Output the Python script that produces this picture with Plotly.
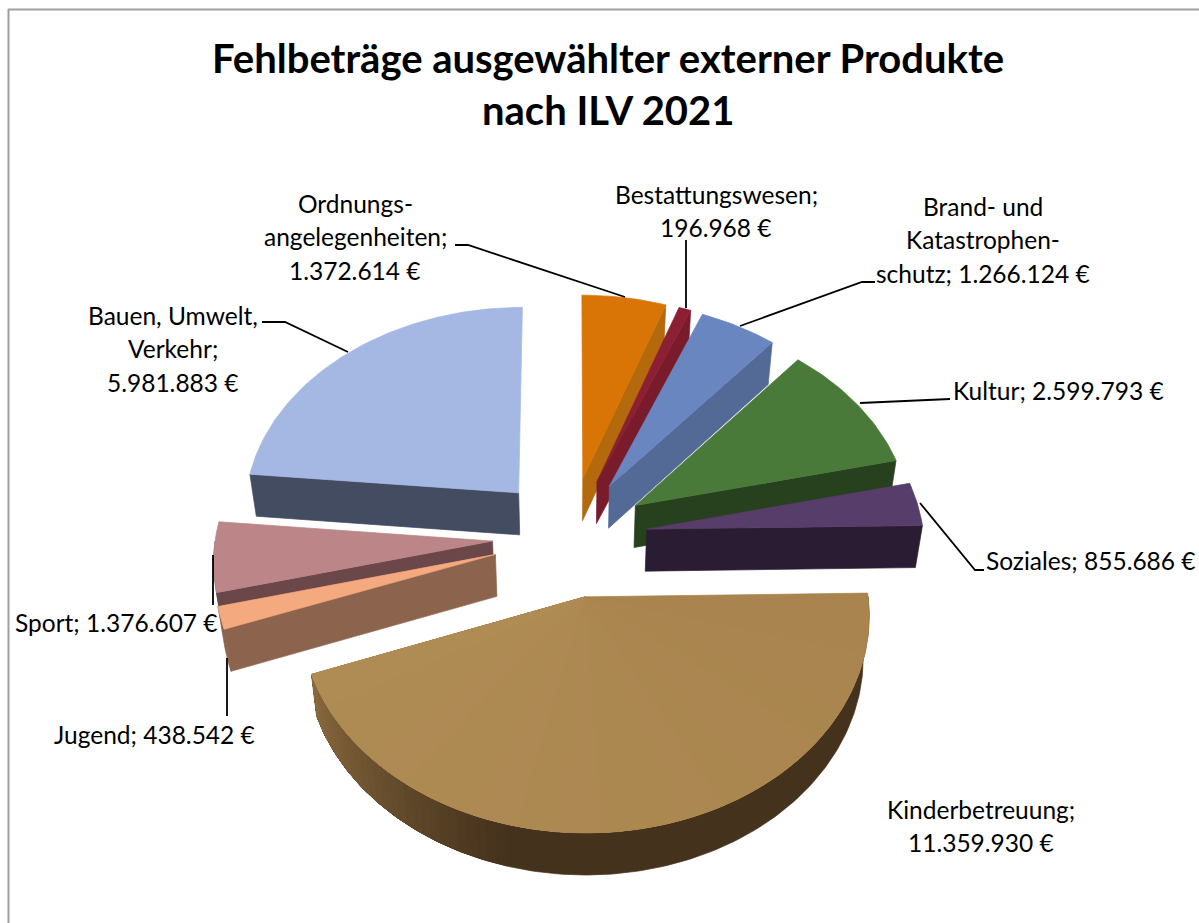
import math
import plotly.graph_objects as go

# ---- data ----
categories = ["Ordnungsangelegenheiten", "Bestattungswesen", "Brand- und Katastrophenschutz",
              "Kultur", "Soziales", "Kinderbetreuung", "Jugend", "Sport", "Bauen, Umwelt, Verkehr"]
values = [1372614, 196968, 1266124, 2599793, 855686, 11359930, 438542, 1376607, 5981883]
label_heads = [["Ordnungs-", "angelegenheiten;"], ["Bestattungswesen;"], ["Brand- und", "Katastrophen-", "schutz;"],
               ["Kultur;"], ["Soziales;"], ["Kinderbetreuung;"], ["Jugend;"], ["Sport;"],
               ["Bauen, Umwelt,", "Verkehr;"]]
top_colors = ["#D97506", "#8B1F33", "#6A86C1", "#4A7A39", "#573D69", "#A9844E", "#F5A97F", "#BC8688", "#A4B8E3"]
wall_colors = ["#B46A0C", "#7A1B2C", "#526A95", "#27401E", "#2A1C33", "#45321C", "#8C644E", "#6B4749", "#434C61"]
title_lines = ["Fehlbeträge ausgewählter externer Produkte", "nach ILV 2021"]

# ---- projection of the tilted pie onto the page ----
CX, CY = 570, 536.5
A, B, P = 277, 207, 0.08
EX, EY = 0.28, 0.29
DEPTH = 42
SHRINK = 0.98


def project(u, v, low=False):
    w = 1 / (1 + P * v)
    x = CX + A * u * w
    y = CY - B * v * w
    if low:
        x = CX + (x - CX) * SHRINK
        y += DEPTH
    return x, y


def mix(c1, c2, t):
    a = [int(c1[i:i + 2], 16) for i in (1, 3, 5)]
    b = [int(c2[i:i + 2], 16) for i in (1, 3, 5)]
    return "#%02X%02X%02X" % tuple(round(p + (q - p) * t) for p, q in zip(a, b))


fig = go.Figure()


def poly(pts, color, edge=0.7):
    fig.add_trace(go.Scatter(x=[p[0] for p in pts] + [pts[0][0]], y=[p[1] for p in pts] + [pts[0][1]],
                             mode="lines", fill="toself", fillcolor=color,
                             line=dict(color=color, width=edge), hoverinfo="skip", showlegend=False))


total = sum(values)
bounds = []
t = 0.0
for v in values:
    bounds.append((t, t + v / total * 360))
    t += v / total * 360

for i in [8, 0, 1, 2, 3, 4, 7, 6, 5]:
    a0, a1 = bounds[i]
    mid = math.radians((a0 + a1) / 2)
    ou, ov = EX * math.sin(mid), EY * math.cos(mid)

    def rim(deg, low=False):
        r = math.radians(deg)
        return project(ou + math.sin(r), ov + math.cos(r), low)

    def arc(d0, d1, low=False, step=1.0):
        n = max(2, int(abs(d1 - d0) / step))
        return [rim(d0 + (d1 - d0) * k / n, low) for k in range(n + 1)]

    apex = project(ou, ov)
    apex_low = project(ou, ov, True)
    # radial walls
    if a1 < 180:
        poly([apex, rim(a1), rim(a1, True), apex_low], wall_colors[i])
    if 180 < a0 < 360:
        poly([apex, rim(a0), rim(a0, True), apex_low], wall_colors[i])
    # curved front wall
    lo, hi = max(a0, 90), min(a1, 270)
    if hi > lo:
        poly(arc(lo, hi) + arc(hi, lo, True), wall_colors[i])
        if i == 5:
            # lighter towards the left end, pieces overlap going leftwards
            d = 195.0
            while d < hi:
                f = (d + 1 - 195) / (hi - 195)
                poly(arc(d, hi) + arc(hi, d, True), mix("#45321C", "#8A6A3E", f), edge=0)
                d += 2.0
    # top face
    poly([apex] + arc(a0, a1), top_colors[i])
    if i == 5:
        # faint left-to-right banding of the largest slice
        d = a0 + 8
        while d < a1:
            f = (d - a0) / (a1 - a0)
            poly([apex] + arc(d, a1), mix("#A9844E", "#B08C55", f), edge=0)
            d += 8

# ---- leader lines ----
leaders = [
    [(455, 245), (468, 245), (625, 297)],
    [(686, 240), (686, 308)],
    [(875, 282), (862, 282), (740, 326)],
    [(950, 399), (860, 403)],
    [(984, 570), (975, 570), (920, 503)],
    [(227, 658), (227, 716)],
    [(213, 555), (213, 605)],
    [(262, 322), (285, 322), (348, 352)],
]
for pts in leaders:
    fig.add_trace(go.Scatter(x=[p[0] for p in pts], y=[p[1] for p in pts], mode="lines",
                             line=dict(color="black", width=1.8), hoverinfo="skip", showlegend=False))

# ---- labels: one text per line so the line pitch can match ----
FONT = "Lato, Carlito, sans-serif"
SIZE = 24.5
PITCH = 33.5
anchors = [(355, 203, "center"), (716, 194, "center"), (983, 206, "center"), (1058, 390, "center"),
           (1198, 560, "right"), (981, 809, "center"), (154, 734, "center"), (116, 622, "center"), (173, 315, "center")]
annots = []
for i, head in enumerate(label_heads):
    money = f"{values[i]:,}".replace(",", ".") + " €"
    lines = list(head)
    if lines[-1] in ("schutz;", "Kultur;", "Soziales;", "Jugend;", "Sport;"):
        lines[-1] = lines[-1] + " " + money
    else:
        lines.append(money)
    x, y, anc = anchors[i]
    for j, txt in enumerate(lines):
        annots.append(dict(x=x, y=y + j * PITCH, text=txt, showarrow=False, xanchor=anc, yanchor="middle",
                           font=dict(family=FONT, size=SIZE, color="black")))
for j, txt in enumerate(title_lines):
    annots.append(dict(x=608, y=58 + j * 52, text=f"<b>{txt}</b>", showarrow=False, xanchor="center",
                       yanchor="middle", font=dict(family=FONT, size=40, color="black")))

fig.update_layout(
    width=1199, height=923, margin=dict(l=0, r=0, t=0, b=0),
    paper_bgcolor="white", plot_bgcolor="white", showlegend=False,
    xaxis=dict(range=[0, 1199], visible=False, fixedrange=True),
    yaxis=dict(range=[923, 0], visible=False, fixedrange=True),
    annotations=annots,
    shapes=[
        dict(type="line", x0=8, x1=1199, y0=9.5, y1=9.5, line=dict(color="#A0A0A0", width=2)),
        dict(type="line", x0=8.5, x1=8.5, y0=9, y1=923, line=dict(color="#A0A0A0", width=2)),
    ],
)
fig.write_html("out.html", config=dict(displayModeBar=False),
               post_script="document.body.style.margin='0';document.body.style.overflow='hidden';")
